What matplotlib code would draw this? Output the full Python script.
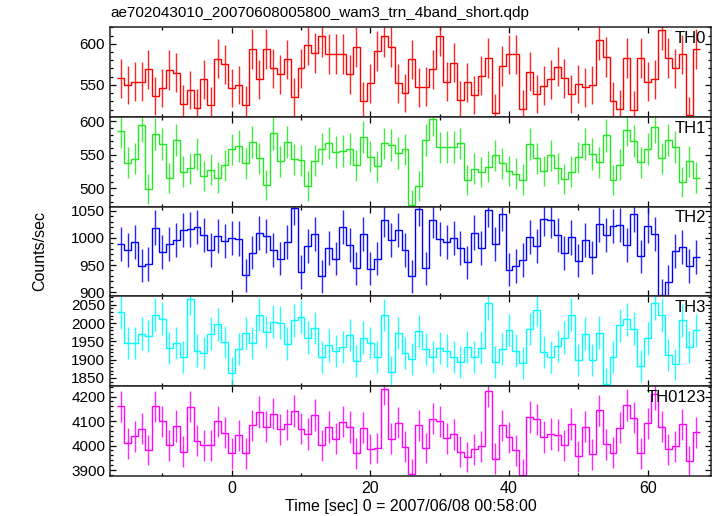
import numpy as np
import matplotlib
matplotlib.use("Agg")
import matplotlib.pyplot as plt
from matplotlib.ticker import MultipleLocator

plt.rcParams['font.family'] = ['Liberation Sans', 'DejaVu Sans']

# bin centres (s), 1-s bins
time = np.arange(-16, 68)

th0 = [558, 550, 554, 554, 569, 537, 546, 568, 565, 527, 544, 522, 557, 525, 582, 575,
       546, 550, 526, 594, 557, 594, 570, 563, 581, 535, 570, 599, 589, 609, 588, 588,
       588, 563, 596, 530, 552, 591, 609, 596, 552, 540, 581, 547, 548, 569, 610, 554,
       577, 532, 553, 538, 561, 583, 516, 573, 587, 587, 521, 566, 539, 549, 557, 572,
       558, 539, 551, 547, 550, 605, 584, 530, 521, 583, 520, 583, 554, 557, 617, 583,
       570, 587, 513, 594]
th1 = [585, 538, 544, 594, 499, 581, 566, 515, 572, 525, 530, 551, 518, 528, 516, 534,
       558, 563, 537, 569, 545, 505, 582, 540, 569, 543, 542, 504, 541, 559, 568, 554,
       556, 559, 534, 577, 547, 533, 567, 565, 553, 558, 475, 504, 572, 603, 561, 562,
       562, 567, 512, 529, 524, 532, 549, 537, 526, 522, 513, 566, 545, 526, 549, 530,
       514, 525, 546, 566, 551, 539, 579, 512, 535, 587, 570, 539, 559, 592, 545, 572,
       562, 509, 540, 516]
th2 = [988, 978, 993, 949, 952, 1019, 974, 989, 997, 1015, 1016, 1020, 1006, 978, 1003, 994,
       1000, 999, 931, 973, 1009, 1003, 978, 962, 993, 1056, 937, 985, 1007, 929, 981, 962,
       1020, 987, 944, 1008, 943, 962, 1034, 996, 1015, 978, 929, 1054, 944, 1033, 998, 992,
       1000, 981, 955, 1010, 982, 1052, 988, 1045, 941, 948, 959, 1002, 985, 1035, 1033, 1005,
       972, 1001, 958, 996, 964, 1025, 1006, 1022, 1024, 987, 1044, 966, 1023, 1008, 894, 919,
       976, 983, 948, 965]
th3 = [2029, 1945, 1945, 1971, 1965, 2023, 2012, 1931, 1946, 1908, 2067, 1925, 1919, 1971, 1997, 1949,
       1864, 1928, 1972, 1946, 2023, 1976, 2004, 2001, 1944, 2008, 2017, 1960, 1986, 1907, 1939, 1924,
       1934, 1968, 1897, 1960, 1946, 1906, 2022, 1867, 1973, 1919, 1903, 1977, 1928, 1907, 1931, 1925,
       1907, 1894, 1934, 1908, 1933, 2054, 1894, 1928, 1981, 1925, 1891, 1984, 2037, 1922, 1908, 1937,
       1960, 2023, 1900, 1971, 1900, 1974, 1834, 1907, 1994, 2010, 1985, 1882, 1958, 2054, 2021, 1912,
       1887, 2008, 1935, 1980]
th0123 = [4160, 4010, 4038, 4069, 3982, 4160, 4099, 4001, 4080, 3974, 4159, 4019, 4001, 4001, 4099, 4053,
          3968, 4042, 3968, 4083, 4136, 4077, 4130, 4066, 4087, 4140, 4069, 4047, 4124, 4001, 4076, 4027,
          4098, 4076, 3968, 4073, 3986, 3990, 4231, 4027, 4094, 3995, 3884, 4083, 3990, 4110, 4099, 4030,
          4046, 3974, 3953, 3985, 3997, 4222, 3946, 4083, 4034, 3980, 3881, 4117, 4107, 4035, 4047, 4043,
          4001, 4088, 3956, 4077, 3964, 4144, 4006, 3970, 4073, 4166, 4114, 3968, 4091, 4211, 4077, 3985,
          3997, 4087, 3935, 4054]

names = ["TH0", "TH1", "TH2", "TH3", "TH0123"]
series = [th0, th1, th2, th3, th0123]
colors = ["#ff0000", "#22e822", "#0000ff", "#00ffff", "#ff00ff"]
ylims = [(511, 620), (472.4, 606.6), (892, 1058), (1828, 2073), (3877, 4243)]
ymajor = [50, 50, 50, 50, 100]
yminor = [10, 10, 10, 10, 20]
title = "ae702043010_20070608005800_wam3_trn_4band_short.qdp"
xlabel = "Time [sec] 0 = 2007/06/08 00:58:00"
ylabel = "Counts/sec"

W, H = 717, 516
fig = plt.figure(figsize=(W / 100, H / 100), dpi=100)
left, right = 110 / W, 711 / W
top_px, bot_px = 27.3, 475.7
ph = (bot_px - top_px) / 5

edges = np.concatenate([time - 0.5, [time[-1] + 0.5]])
axes = []
for i, (name, vals, c) in enumerate(zip(names, series, colors)):
    y0 = 1 - (top_px + (i + 1) * ph) / H
    ax = fig.add_axes([left, y0, right - left, ph / H])
    v = np.asarray(vals, dtype=float)
    ax.errorbar(time, v, yerr=np.sqrt(v), fmt='none', ecolor=c, elinewidth=1.0,
                capsize=0, alpha=0.85)
    ax.stairs(v, edges, color=c, lw=1.0, baseline=None)
    ax.set_xlim(-17.55, 69.13)
    ax.set_ylim(*ylims[i])
    ax.xaxis.set_major_locator(MultipleLocator(20))
    ax.xaxis.set_minor_locator(MultipleLocator(10))
    ax.yaxis.set_major_locator(MultipleLocator(ymajor[i]))
    ax.yaxis.set_minor_locator(MultipleLocator(yminor[i]))
    ax.tick_params(which='both', direction='in', top=True, right=True,
                   labelsize=11, width=0.9, colors='black')
    ax.tick_params(axis='x', labelsize=11.5)
    ax.tick_params(which='major', length=4.5)
    ax.tick_params(which='minor', length=2.2)
    for s in ax.spines.values():
        s.set_linewidth(1.1)
        s.set_color('#222222')
    if i < 4:
        ax.tick_params(labelbottom=False)
    ax.text(0.992, 0.96, name, transform=ax.transAxes, ha='right', va='top',
            fontsize=12, color='black')
    axes.append(ax)

fig.text(left + 0.001, 1 - 13 / H, title, ha='left', va='center', fontsize=11)
fig.text((left + right) / 2, 1 - 507 / H, xlabel, ha='center', va='center', fontsize=11.5)
fig.text(40 / W, 1 - 251 / H, ylabel, ha='center', va='center', rotation=90, fontsize=11.5)

fig.savefig("out.png", dpi=100)
